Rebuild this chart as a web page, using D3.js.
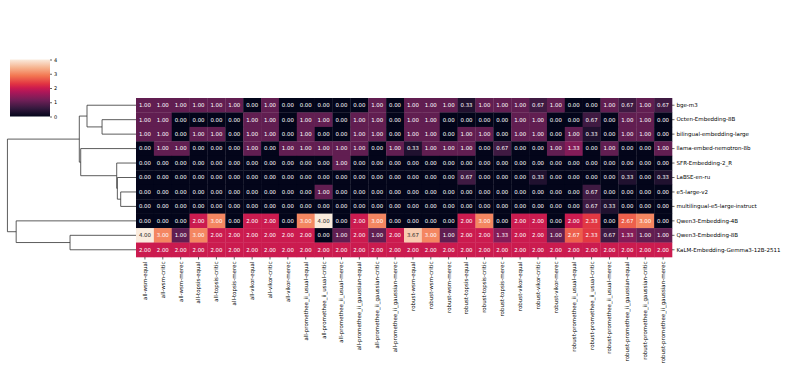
<!DOCTYPE html>
<html>
<head>
<meta charset="utf-8">
<script src="https://cdn.jsdelivr.net/npm/d3@7"></script>
<style>
body { margin: 0; background: #fff; }
text { font-family: "DejaVu Sans", sans-serif; }
</style>
</head>
<body>
<div id="chart"></div>
<script>
// column labels (methods)
var cols = ["all-wsm-equal", "all-wsm-critic", "all-wsm-merec",
	"all-topsis-equal", "all-topsis-critic", "all-topsis-merec",
	"all-vikor-equal", "all-vikor-critic", "all-vikor-merec",
	"all-promethee_ii_usual-equal", "all-promethee_ii_usual-critic", "all-promethee_ii_usual-merec",
	"all-promethee_ii_gaussian-equal", "all-promethee_ii_gaussian-critic", "all-promethee_ii_gaussian-merec",
	"robust-wsm-equal", "robust-wsm-critic", "robust-wsm-merec",
	"robust-topsis-equal", "robust-topsis-critic", "robust-topsis-merec",
	"robust-vikor-equal", "robust-vikor-critic", "robust-vikor-merec",
	"robust-promethee_ii_usual-equal", "robust-promethee_ii_usual-critic", "robust-promethee_ii_usual-merec",
	"robust-promethee_ii_gaussian-equal", "robust-promethee_ii_gaussian-critic", "robust-promethee_ii_gaussian-merec"];

// row labels (models), in clustered order
var rows = ["bge-m3", "Octen-Embedding-8B", "bilingual-embedding-large", "llama-embed-nemotron-8b",
	"SFR-Embedding-2_R", "LaBSE-en-ru", "e5-large-v2", "multilingual-e5-large-instruct",
	"Qwen3-Embedding-4B", "Qwen3-Embedding-8B", "KaLM-Embedding-Gemma3-12B-2511"];

// cell values, one array per row
var values = [
	[1,1,1,1,1,1,0,1,0,0,0,0,0,1,0,1,1,1,0.33,1,1,1,0.67,1,0,0,1,0.67,1,0.67],
	[1,1,0,0,0,0,1,1,0,1,1,0,1,1,0,1,1,0,0,0,0,1,1,0,0,0.67,0,1,1,0],
	[1,1,0,1,1,0,1,1,0,1,0,0,1,1,0,1,1,0,1,1,0,1,1,0,1,0.33,0,1,1,0],
	[0,1,1,0,0,0,1,0,1,1,1,1,1,0,1,0.33,1,1,1,0,0.67,0,0,1,1.33,0,1,0,0,1],
	[0,0,0,0,0,0,0,0,0,0,0,1,0,0,0,0,0,0,0,0,0,0,0,0,0,0,0,0,0,0],
	[0,0,0,0,0,0,0,0,0,0,0,0,0,0,0,0,0,0,0.67,0,0,0,0.33,0,0,0,0,0.33,0,0.33],
	[0,0,0,0,0,0,0,0,0,0,1,0,0,0,0,0,0,0,0,0,0,0,0,0,0,0.67,0,0,0,0],
	[0,0,0,0,0,0,0,0,0,0,0,0,0,0,0,0,0,0,0,0,0,0,0,0,0,0.67,0.33,0,0,0],
	[0,0,0,2,3,0,2,2,0,3,4,0,2,3,0,0,0,0,2,3,0,2,2,0,2,2.33,0,2.67,3,0],
	[4,3,1,3,2,2,2,2,2,2,0,1,2,1,2,3.67,3,1,2,2,1.33,2,2,1,2.67,2.33,0.67,1.33,1,1],
	[2,2,2,2,2,2,2,2,2,2,2,2,2,2,2,2,2,2,2,2,2,2,2,2,2,2,2,2,2,2]
];

// row linkage: [left, right, distance]; ids >= rows.length point to earlier merges
var merges = [
	[6, 7, 1.19],
	[5, 11, 1.45],
	[4, 12, 1.50],
	[1, 2, 2.64],
	[0, 14, 3.81],
	[3, 13, 4.30],
	[15, 16, 4.41],
	[9, 10, 5.13],
	[8, 18, 9.32],
	[17, 19, 10.0]
];

var cbTicks = [0, 1, 2, 3, 4];

// rocket colormap stops
var rocketStops = ["#03051a", "#35193e", "#701f57", "#ad1759", "#cb1b4f", "#e13342", "#f37651", "#f6b48f", "#faebdd"];
var rocketPos = [0, 1/7, 2/7, 3/7, 0.5, 4/7, 5/7, 6/7, 1];

var width = 787, height = 370;
var hm = { left: 136, right: 672, top: 98, bottom: 257 };

var svg = d3.select("#chart")
	.append("svg")
	.attr("width", width)
	.attr("height", height);

var vmin = 0, vmax = 4;
var rocket = d3.scaleLinear()
	.domain(rocketPos.map(function(p) { return vmin + p * (vmax - vmin); }))
	.range(rocketStops)
	.interpolate(d3.interpolateRgb)
	.clamp(true);

var x = d3.scaleBand().domain(cols).range([hm.left, hm.right]);
var y = d3.scaleBand().domain(rows).range([hm.top, hm.bottom]);

//relative luminance, same rule seaborn uses for annotation colour
var lum = function(c) {
	var rgb = d3.rgb(c);
	var f = function(v) { v = v / 255; return v <= 0.03928 ? v / 12.92 : Math.pow((v + 0.055) / 1.055, 2.4); };
	return 0.2126 * f(rgb.r) + 0.7152 * f(rgb.g) + 0.0722 * f(rgb.b);
};

//cells
var cells = [];
values.forEach(function(r, i) {
	r.forEach(function(v, j) { cells.push({ row: rows[i], col: cols[j], v: v }); });
});

var cell = svg.append("g").selectAll("g")
	.data(cells)
	.enter()
	.append("g");

cell.append("rect")
	.attr("x", function(d) { return x(d.col); })
	.attr("y", function(d) { return y(d.row); })
	.attr("width", x.bandwidth() + 0.3)
	.attr("height", y.bandwidth() + 0.3)
	.attr("fill", function(d) { return rocket(d.v); });

cell.append("text")
	.attr("x", function(d) { return x(d.col) + x.bandwidth() / 2; })
	.attr("y", function(d) { return y(d.row) + y.bandwidth() / 2; })
	.attr("dy", "0.35em")
	.attr("text-anchor", "middle")
	.attr("font-size", "5.4px")
	.attr("fill", function(d) { return lum(rocket(d.v)) > 0.408 ? "#262626" : "#ffffff"; })
	.text(function(d) { return d.v.toFixed(2); });

//right axis (row labels)
svg.append("g")
	.attr("transform", "translate(" + hm.right + ",0)")
	.call(d3.axisRight(y).tickSize(2.5).tickPadding(2))
	.call(function(g) { g.select(".domain").remove(); })
	.call(function(g) {
		g.selectAll("line").attr("stroke", "#000").attr("stroke-width", 0.6);
		g.selectAll("text").attr("font-size", "5.5px").attr("font-family", "DejaVu Sans").attr("fill", "#000");
	});

//bottom axis (column labels)
svg.append("g")
	.attr("transform", "translate(0," + hm.bottom + ")")
	.call(d3.axisBottom(x).tickSize(2.5).tickPadding(2))
	.call(function(g) { g.select(".domain").remove(); })
	.call(function(g) {
		g.selectAll("line").attr("stroke", "#000").attr("stroke-width", 0.6);
		g.selectAll("text")
			.attr("font-size", "5.5px")
			.attr("font-family", "DejaVu Sans")
			.attr("fill", "#000")
			.attr("transform", "rotate(-90)")
			.attr("text-anchor", "end")
			.attr("x", -4.5)
			.attr("y", 0)
			.attr("dy", "0.35em");
	});

//row dendrogram
var maxD = d3.max(merges, function(m) { return m[2]; });
var dx = d3.scaleLinear().domain([0, maxD * 1.05]).range([hm.left, 1]);
var nodes = rows.map(function(r) { return { y: y(r) + y.bandwidth() / 2, h: 0 }; });
var tree = svg.append("g");
merges.forEach(function(m) {
	var a = nodes[m[0]], b = nodes[m[1]];
	tree.append("path")
		.attr("d", "M" + dx(a.h) + "," + a.y + "H" + dx(m[2]) + "V" + b.y + "H" + dx(b.h))
		.attr("fill", "none")
		.attr("stroke", "#333")
		.attr("stroke-width", 0.8);
	nodes.push({ y: (a.y + b.y) / 2, h: m[2] });
});

//colorbar
var cb = { x: 10, w: 40, top: 59.5, bottom: 116.5 };
var cy = d3.scaleLinear().domain([vmin, vmax]).range([cb.bottom, cb.top]);
var grad = svg.append("defs").append("linearGradient")
	.attr("id", "cbGrad")
	.attr("x1", 0).attr("y1", 1).attr("x2", 0).attr("y2", 0);
grad.selectAll("stop")
	.data(rocketPos)
	.enter()
	.append("stop")
	.attr("offset", function(d) { return d; })
	.attr("stop-color", function(d, i) { return rocketStops[i]; });
svg.append("rect")
	.attr("x", cb.x)
	.attr("y", cb.top)
	.attr("width", cb.w)
	.attr("height", cb.bottom - cb.top)
	.attr("fill", "url(#cbGrad)");
svg.append("g")
	.attr("transform", "translate(" + (cb.x + cb.w) + ",0)")
	.call(d3.axisRight(cy).tickValues(cbTicks).tickFormat(d3.format("d")).tickSize(2).tickPadding(2))
	.call(function(g) { g.select(".domain").remove(); })
	.call(function(g) {
		g.selectAll("line").attr("stroke", "#000").attr("stroke-width", 0.6);
		g.selectAll("text").attr("font-size", "5px").attr("font-family", "DejaVu Sans").attr("fill", "#000");
	});
</script>
</body>
</html>
